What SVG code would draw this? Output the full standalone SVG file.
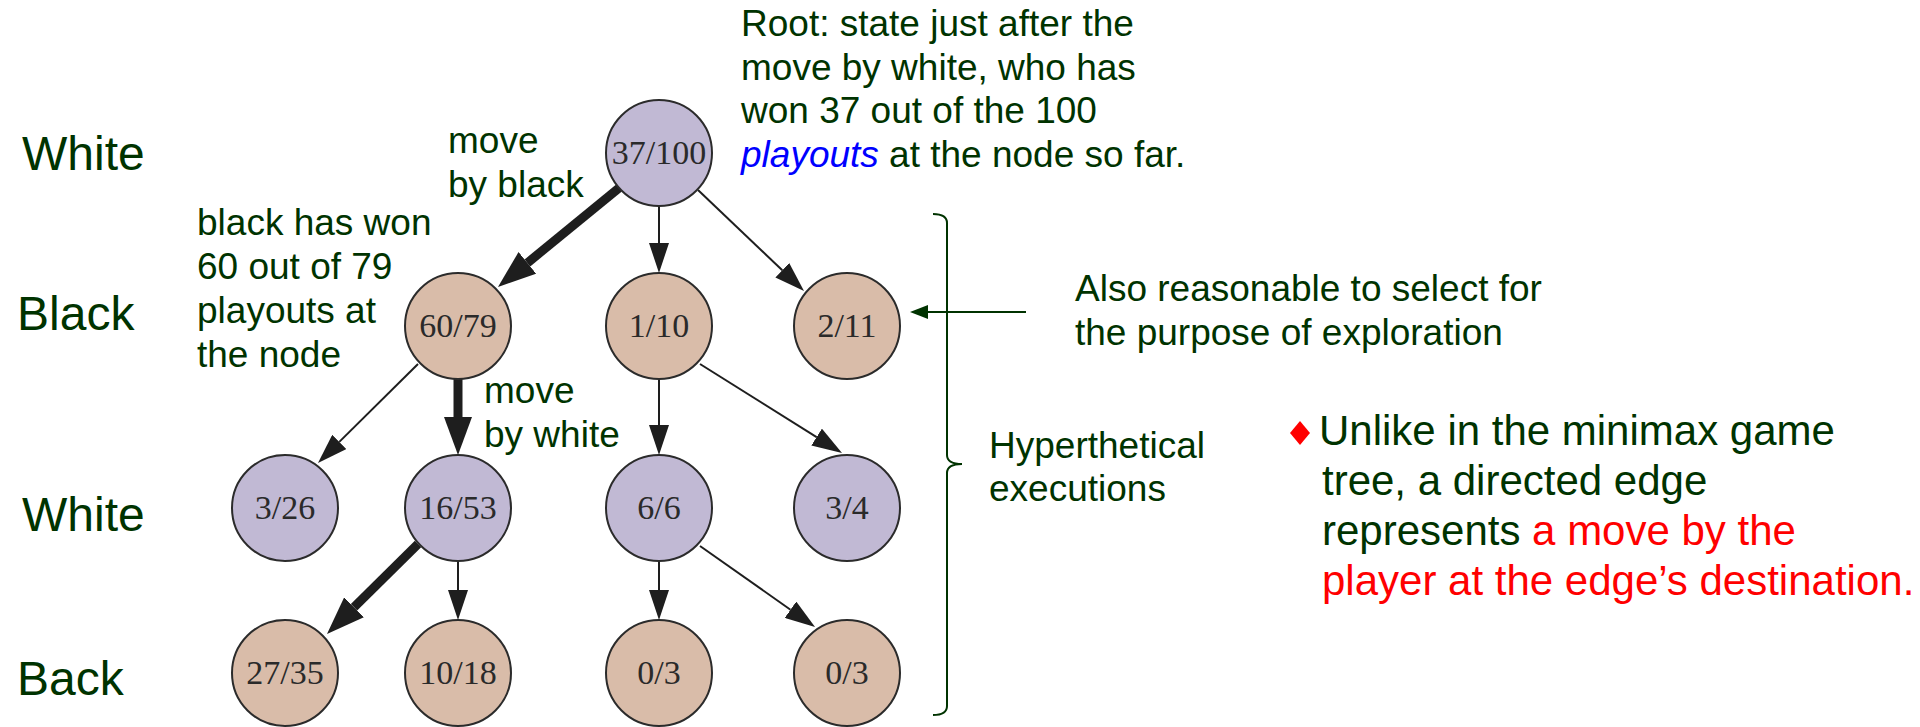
<svg xmlns="http://www.w3.org/2000/svg" width="1920" height="727" viewBox="0 0 1920 727">
  <style>
    .lbl { font-family: "Liberation Sans", Arial, sans-serif; fill: #003300; }
    .side { font-size: 48px; }
    .note { font-size: 37px; }
    .bullet { font-size: 42px; }
    .red { fill: #ff0000; }
    .blue { fill: #0000ff; font-style: italic; }
    .nw circle { fill: #c1b9d4; stroke: #2b2b2b; stroke-width: 2; }
    .nb circle { fill: #d9bca9; stroke: #2b2b2b; stroke-width: 2; }
    .node text { font-family: "Liberation Serif", "Times New Roman", serif; font-size: 34px; fill: #2a2a2a; text-anchor: middle; }
    .thin { stroke: #1e1e1e; stroke-width: 2; fill: none; marker-end: url(#arrowThin); }
    .thick { stroke: #1e1e1e; stroke-width: 9; fill: none; marker-end: url(#arrowThick); }
    .guide { stroke: #003300; stroke-width: 2; fill: none; }
  </style>
  <defs>
    <marker id="arrowThin" markerUnits="userSpaceOnUse" markerWidth="30" markerHeight="20" refX="0" refY="10" orient="auto">
      <path d="M0,0 L30,10 L0,20 Z" fill="#1e1e1e"/>
    </marker>
    <marker id="arrowThick" markerUnits="userSpaceOnUse" markerWidth="38" markerHeight="28" refX="0" refY="14" orient="auto">
      <path d="M0,0 L38,14 L0,28 Z" fill="#1e1e1e"/>
    </marker>
    <marker id="arrowGreen" markerUnits="userSpaceOnUse" markerWidth="18" markerHeight="14" refX="0" refY="7" orient="auto">
      <path d="M0,0 L18,7 L0,14 Z" fill="#003300"/>
    </marker>
  </defs>

  <!-- level labels -->
  <g id="levels" class="lbl side">
    <text x="22" y="170">White</text>
    <text x="17" y="330">Black</text>
    <text x="22" y="531">White</text>
    <text x="17" y="695">Back</text>
  </g>

  <!-- tree edges -->
  <g id="connectors">
    <path class="thick" d="M619,188 L527.4,262.9"/>
    <path class="thin" d="M659,206 L659,243"/>
    <path class="thin" d="M698,190 L782.3,270.3"/>
    <path class="thin" d="M418,364 L339.3,441.9"/>
    <path class="thick" d="M458,379 L458,417"/>
    <path class="thin" d="M659,379 L659,425"/>
    <path class="thin" d="M700,364 L816.6,437.1"/>
    <path class="thick" d="M418,544 L354,607.3"/>
    <path class="thin" d="M458,561 L458,590"/>
    <path class="thin" d="M659,561 L659,590"/>
    <path class="thin" d="M700,546 L790.5,609.7"/>
  </g>

  <!-- nodes -->
  <g id="n-root" class="node nw"><circle cx="659" cy="153" r="53"/><text x="659" y="164">37/100</text></g>
  <g id="n-60-79" class="node nb"><circle cx="458" cy="326" r="53"/><text x="458" y="337">60/79</text></g>
  <g id="n-1-10" class="node nb"><circle cx="659" cy="326" r="53"/><text x="659" y="337">1/10</text></g>
  <g id="n-2-11" class="node nb"><circle cx="847" cy="326" r="53"/><text x="847" y="337">2/11</text></g>
  <g id="n-3-26" class="node nw"><circle cx="285" cy="508" r="53"/><text x="285" y="519">3/26</text></g>
  <g id="n-16-53" class="node nw"><circle cx="458" cy="508" r="53"/><text x="458" y="519">16/53</text></g>
  <g id="n-6-6" class="node nw"><circle cx="659" cy="508" r="53"/><text x="659" y="519">6/6</text></g>
  <g id="n-3-4" class="node nw"><circle cx="847" cy="508" r="53"/><text x="847" y="519">3/4</text></g>
  <g id="n-27-35" class="node nb"><circle cx="285" cy="673" r="53"/><text x="285" y="684">27/35</text></g>
  <g id="n-10-18" class="node nb"><circle cx="458" cy="673" r="53"/><text x="458" y="684">10/18</text></g>
  <g id="n-0-3a" class="node nb"><circle cx="659" cy="673" r="53"/><text x="659" y="684">0/3</text></g>
  <g id="n-0-3b" class="node nb"><circle cx="847" cy="673" r="53"/><text x="847" y="684">0/3</text></g>

  <!-- annotations -->
  <g id="root-note" class="lbl note">
    <text x="741" y="36">Root: state just after the</text>
    <text x="741" y="80">move by white, who has</text>
    <text x="741" y="123">won 37 out of the 100</text>
    <text x="741" y="167"><tspan class="blue">playouts</tspan> at the node so far.</text>
  </g>
  <g id="move-black" class="lbl note">
    <text x="448" y="153">move</text>
    <text x="448" y="197">by black</text>
  </g>
  <g id="black-note" class="lbl note">
    <text x="197" y="235">black has won</text>
    <text x="197" y="279">60 out of 79</text>
    <text x="197" y="323">playouts at</text>
    <text x="197" y="367">the node</text>
  </g>
  <g id="move-white" class="lbl note">
    <text x="484" y="403">move</text>
    <text x="484" y="447">by white</text>
  </g>

  <!-- brace over the lower levels -->
  <g id="brace">
    <path class="guide" d="M933,214 Q947,214 947,223 L947,455 Q947,464 962,464 Q947,464 947,473 L947,706 Q947,715 933,715"/>
    <text class="lbl note" x="989" y="458">Hyperthetical</text>
    <text class="lbl note" x="989" y="501">executions</text>
  </g>

  <!-- exploration pointer -->
  <g id="explore">
    <path class="guide" d="M1026,312 L928,312" marker-end="url(#arrowGreen)"/>
    <text class="lbl note" x="1075" y="301">Also reasonable to select for</text>
    <text class="lbl note" x="1075" y="345">the purpose of exploration</text>
  </g>

  <!-- bullet point -->
  <g id="bullet">
    <polygon points="1300,421 1310,433 1300,445 1290,433" fill="#ff0000"/>
    <text class="lbl bullet" x="1319" y="445">Unlike in the minimax game</text>
    <text class="lbl bullet" x="1322" y="495">tree, a directed edge</text>
    <text class="lbl bullet" x="1322" y="545">represents <tspan class="red">a move by the</tspan></text>
    <text class="lbl bullet red" x="1322" y="595">player at the edge’s destination.</text>
  </g>
</svg>
